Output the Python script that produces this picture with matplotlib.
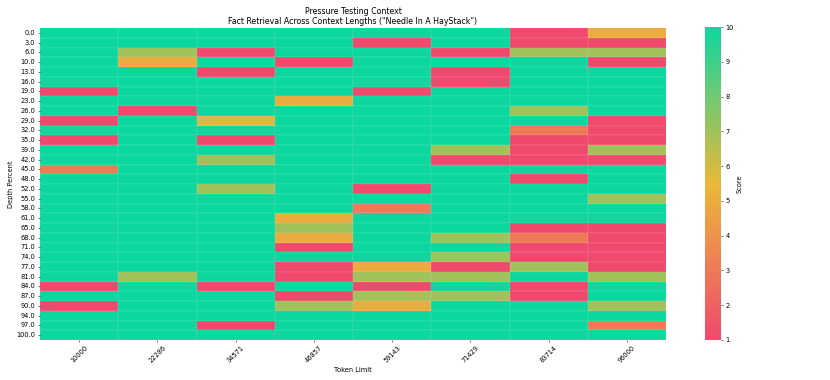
import numpy as np
import pandas as pd
import matplotlib
matplotlib.use("Agg")
import matplotlib.pyplot as plt
import seaborn as sns
from matplotlib.colors import LinearSegmentedColormap

token_limits = [10000, 22286, 34571, 46857, 59143, 71429, 83714, 96000]
depth_percent = [0.0, 3.0, 6.0, 10.0, 13.0, 16.0, 19.0, 23.0, 26.0, 29.0, 32.0,
                 35.0, 39.0, 42.0, 45.0, 48.0, 52.0, 55.0, 58.0, 61.0, 65.0, 68.0,
                 71.0, 74.0, 77.0, 81.0, 84.0, 87.0, 90.0, 94.0, 97.0, 100.0]

# one column of scores per token limit (rows follow depth_percent)
score_10000 = [10, 10, 10, 10, 10, 10, 1, 10, 10, 1, 10, 1, 10, 10, 3, 10,
               10, 10, 10, 10, 10, 10, 10, 10, 10, 10, 1, 10, 1, 10, 10, 10]
score_22286 = [10, 10, 7, 5, 10, 10, 10, 10, 1, 10, 10, 10, 10, 10, 10, 10,
               10, 10, 10, 10, 10, 10, 10, 10, 10, 7, 10, 10, 10, 10, 10, 10]
score_34571 = [10, 10, 1, 10, 1, 10, 10, 10, 10, 6, 10, 1, 10, 7, 10, 10,
               7, 10, 10, 10, 10, 10, 10, 10, 10, 10, 1, 10, 10, 10, 1, 10]
score_46857 = [10, 10, 10, 1, 10, 10, 10, 5, 10, 10, 10, 10, 10, 10, 10, 10,
               10, 10, 10, 5, 7, 5, 1, 10, 1, 1, 10, 1, 7, 10, 10, 10]
score_59143 = [10, 1, 10, 10, 10, 10, 1, 10, 10, 10, 10, 10, 10, 10, 10, 10,
               1, 10, 3, 10, 10, 10, 10, 10, 5, 7, 1, 7, 5, 10, 10, 10]
score_71429 = [10, 10, 1, 10, 1, 1, 10, 10, 10, 10, 10, 10, 7, 1, 10, 10,
               10, 10, 10, 10, 10, 7, 10, 7, 1, 7, 10, 7, 10, 10, 10, 10]
score_83714 = [1, 1, 7, 10, 10, 10, 10, 10, 7, 10, 3, 1, 1, 1, 10, 1,
               10, 10, 10, 10, 1, 3, 1, 1, 7, 10, 1, 1, 10, 10, 10, 10]
score_96000 = [5, 1, 7, 1, 10, 10, 10, 10, 10, 1, 1, 1, 7, 1, 10, 10,
               10, 7, 10, 10, 1, 1, 1, 1, 1, 7, 10, 10, 7, 10, 3, 10]

scores = np.array([score_10000, score_22286, score_34571, score_46857,
                   score_59143, score_71429, score_83714, score_96000]).T
pivot_table = pd.DataFrame(scores, index=depth_percent, columns=token_limits)
pivot_table.index.name = "Depth Percent"
pivot_table.columns.name = "Token Limit"

cmap = LinearSegmentedColormap.from_list("custom_cmap", ["#F0496E", "#EBB839", "#0CD79F"])

dpi = 47.5
fig = plt.figure(figsize=(830 / dpi, 380 / dpi), dpi=dpi)
ax = fig.add_axes([40 / 830, 1 - 340 / 380, 626 / 830, 312 / 380])
cax = fig.add_axes([705 / 830, 1 - 340 / 380, 16 / 830, 313 / 380])

sns.heatmap(pivot_table, fmt="g", cmap=cmap, vmin=1, vmax=10, ax=ax, cbar_ax=cax,
            cbar_kws={'label': 'Score'}, linewidths=0.3, linecolor=(1, 1, 1, 0.05))

ax.set_title('Pressure Testing Context\nFact Retrieval Across Context Lengths ("Needle In A HayStack")')
ax.set_xlabel("Token Limit")
ax.set_ylabel("Depth Percent")
plt.setp(ax.get_xticklabels(), rotation=45)
plt.setp(ax.get_yticklabels(), rotation=0)

fig.savefig("out.png", dpi=dpi)
